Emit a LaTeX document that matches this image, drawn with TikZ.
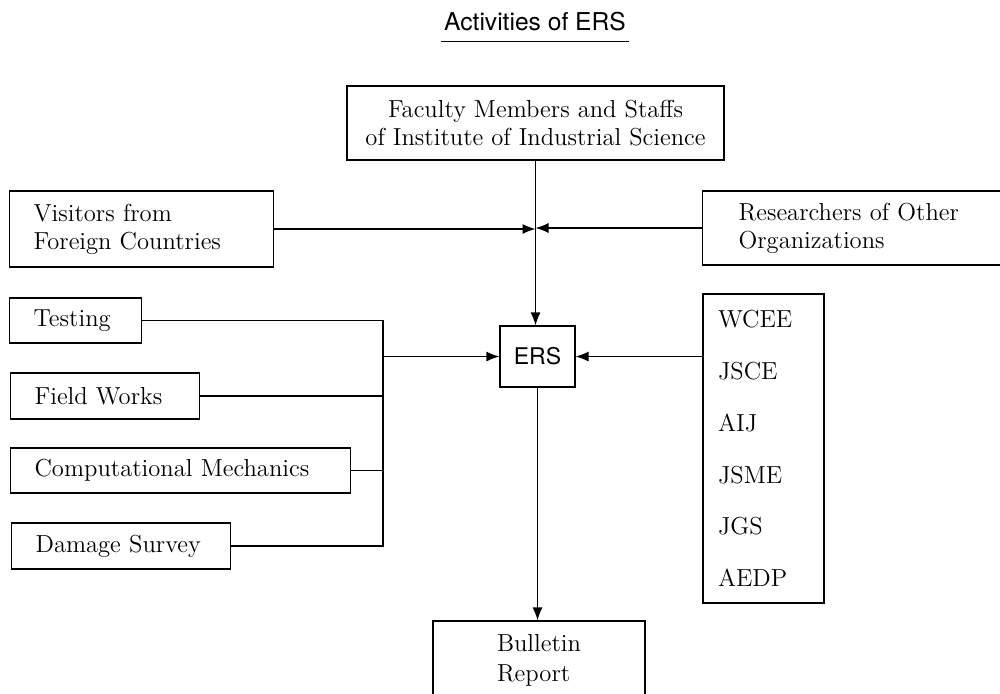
\documentclass[tikz,border=0pt]{standalone}
\usepackage{fontspec}
\setsansfont{TeX Gyre Heros}
\usetikzlibrary{arrows.meta}
\begin{document}
\begin{tikzpicture}[
			x=0.5pt, y=-0.5pt,
			every node/.style={font=\fontsize{12.3}{14}\selectfont},
			cbox/.style={draw, line width=0.6pt, align=center, inner sep=0pt},
			lbox/.style={draw, line width=0.6pt, align=left, anchor=west, inner ysep=0pt, inner xsep=12pt},
			link/.style={line width=0.6pt},
			arr/.style={line width=0.6pt, -{Latex[length=6.5pt,width=5pt]}}
		]
		\clip (0,0) rectangle (1000,693);
		\node[anchor=base, inner xsep=1.5pt, inner ysep=5.5pt, font=\sffamily\fontsize{12.3}{14}\selectfont] (title) at (535,30) {Activities of ERS};
		\draw[link] (title.south west) -- (title.south east);
		\node[cbox, minimum width=188.5pt, minimum height=37pt] (fac) at (535.5,123) {Faculty Members and Staffs\\of Institute of Industrial Science};
		\node[lbox, text width=108pt, minimum height=38pt] (vis) at (9,229) {Visitors from\\Foreign Countries};
		\node[lbox, inner xsep=18pt, text width=118pt, minimum height=37pt] (res) at (702,228) {Researchers of Other\\Organizations};
		\node[lbox, text width=42pt, minimum height=22.5pt] (test) at (9,320.5) {Testing};
		\node[lbox, text width=70.5pt, minimum height=23pt] (fw) at (10,396) {Field Works};
		\node[lbox, text width=146pt, minimum height=22.5pt] (comp) at (10,470.5) {Computational Mechanics};
		\node[lbox, text width=85.5pt, minimum height=23pt] (dmg) at (11,546) {Damage Survey};
		\node[cbox, minimum width=37.5pt, minimum height=30.5pt, font=\sffamily\fontsize{11.5}{14}\selectfont] (ers) at (537.5,356.5) {ERS};
		\node[lbox, anchor=center, inner xsep=7.5pt, text width=45.5pt, minimum height=154.5pt, font=\fontsize{12.3}{25.9}\selectfont] (soc) at (763.5,448.5) {WCEE\\JSCE\\AIJ\\JSME\\JGS\\AEDP};
		\node[lbox, anchor=center, inner xsep=32pt, text width=42pt, minimum height=39.5pt, font=\fontsize{12.3}{15}\selectfont] (bul) at (539,660.5) {Bulletin\\Report};
		\coordinate (bus) at (383,356.5);
		\draw[arr] (fac.south) -- (fac.south |- ers.north);
		\draw[arr] (vis.east) -- (vis.east -| fac.south);
		\draw[arr] (res.west) -- (res.west -| fac.south);
		\draw[link] (test.east) -| (bus);
		\draw[link] (dmg.east) -| (bus);
		\draw[link] (fw.east) -- (fw.east -| bus);
		\draw[link] (comp.east) -- (comp.east -| bus);
		\draw[arr] (bus) -- (ers.west);
		\draw[arr] (soc.west |- ers.east) -- (ers.east);
		\draw[arr] (ers.south) -- (ers.south |- bul.north);
	\end{tikzpicture}
\end{document}
